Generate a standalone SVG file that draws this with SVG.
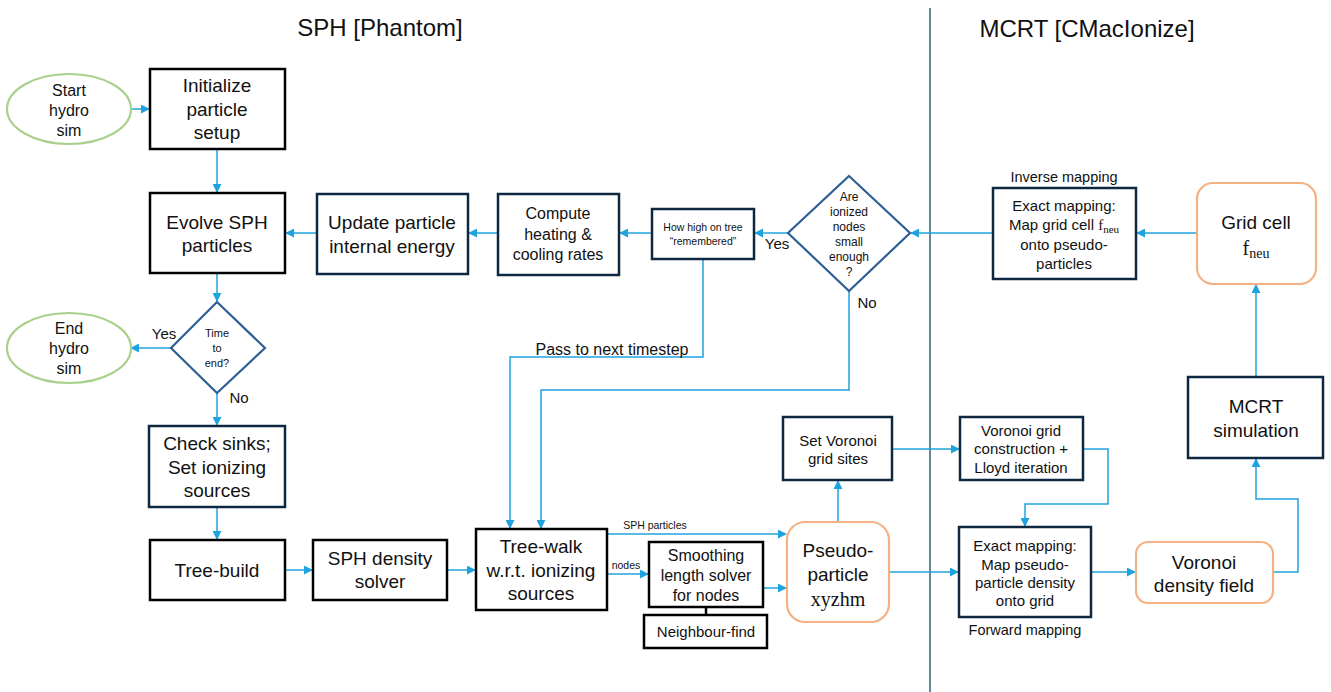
<svg xmlns="http://www.w3.org/2000/svg" width="1331" height="692" viewBox="0 0 1331 692">
<defs>
<marker id="ah" viewBox="0 0 10 10" refX="9" refY="5" markerWidth="9" markerHeight="9" markerUnits="userSpaceOnUse" orient="auto">
<path d="M0,0 L10,5 L0,10 z" fill="#1fa3df"/>
</marker>
</defs>
<style>
text{font-family:"Liberation Sans",Arial,sans-serif;fill:#111;text-anchor:middle}
.bk{fill:#fff;stroke:#000;stroke-width:2.5}
.nv{fill:#fff;stroke:#0e2841;stroke-width:2.5}
.dm{fill:#fff;stroke:#2e5f94;stroke-width:2.2}
.gr{fill:#fff;stroke:#a9d18e;stroke-width:2.2}
.or{fill:#fff;stroke:#f4b183;stroke-width:2.2}
.c{fill:none;stroke:#1fa3df;stroke-width:1.5}
.a{marker-end:url(#ah)}
.t18{font-size:19px}
.t16{font-size:16px}
.t15{font-size:15px}
.lb{font-size:15px}
.t12{font-size:12px}
.t11{font-size:11px}
.t10{font-size:10.5px}
.ser{font-family:"Liberation Serif","DejaVu Serif",serif}
</style>
<rect width="1331" height="692" fill="#fff"/>
<text x="380" y="36" style="font-size:24px">SPH [Phantom]</text>
<text x="1087" y="37" style="font-size:24px">MCRT [CMacIonize]</text>
<line x1="930" y1="8" x2="930" y2="692" stroke="#2e5f80" stroke-width="1.5"/>

<g id="connectors">
<path class="c a" d="M130,109 H149"/>
<path class="c a" d="M217,149 V192"/>
<path class="c a" d="M217,273 V301"/>
<path class="c a" d="M171,348 H131"/>
<path class="c a" d="M217,393 V425"/>
<path class="c a" d="M217,507 V539"/>
<path class="c a" d="M285,570 H312"/>
<path class="c a" d="M447,570 H475"/>
<path class="c a" d="M317,233 H286"/>
<path class="c a" d="M498,233 H469"/>
<path class="c a" d="M652,233 H620"/>
<path class="c a" d="M788,233 H755"/>
<path class="c a" d="M993,233 H911"/>
<path class="c a" d="M1197,233 H1137"/>
<path class="c a" d="M703,259 V357 H510 V528"/>
<path class="c a" d="M849,291 V390 H541 V528"/>
<path class="c a" d="M607,534 H786"/>
<path class="c a" d="M607,574 H648"/>
<path class="c a" d="M763,588 H786"/>
<path d="M706,607 V615" stroke="#000" stroke-width="2.5"/>
<path class="c a" d="M838,522 V481"/>
<path class="c a" d="M892,449 H959"/>
<path class="c a" d="M1083,449 H1108 V504 H1025 V526"/>
<path class="c a" d="M889,572 H958"/>
<path class="c a" d="M1091,572 H1135"/>
<path class="c a" d="M1273,572 H1298 V499 H1256 V459"/>
<path class="c a" d="M1256,377 V285"/>
</g>
<g id="connector-labels">
<text class="lb" x="164" y="339">Yes</text>
<text class="lb" x="239" y="403">No</text>
<text class="lb" x="777" y="249">Yes</text>
<text class="lb" x="867" y="308">No</text>
<text x="612" y="355" style="font-size:16px">Pass to next timestep</text>
<text class="t10" x="655" y="529">SPH particles</text>
<text class="t10" x="626" y="569">nodes</text>
<text x="1064" y="182" style="font-size:14.5px">Inverse mapping</text>
<text x="1025" y="635" style="font-size:14.5px">Forward mapping</text>
</g>

<g id="start">
<ellipse class="gr" cx="69" cy="109" rx="62" ry="35"/>
<text class="t16" x="69" y="96">Start</text>
<text class="t16" x="69" y="116">hydro</text>
<text class="t16" x="69" y="136">sim</text>
</g>
<g id="init">
<rect class="bk" x="150" y="69" width="135" height="80"/>
<text class="t18" x="217" y="92">Initialize</text>
<text class="t18" x="217" y="116">particle</text>
<text class="t18" x="217" y="139">setup</text>
</g>
<g id="evolve">
<rect class="bk" x="150" y="193" width="135" height="80"/>
<text class="t18" x="217" y="229">Evolve SPH</text>
<text class="t18" x="217" y="252">particles</text>
</g>
<g id="time-end">
<polygon class="dm" points="217,302 265,348 217,393 171,348"/>
<text class="t11" x="217" y="337">Time</text>
<text class="t11" x="217" y="352">to</text>
<text class="t11" x="217" y="367">end?</text>
</g>
<g id="end">
<ellipse class="gr" cx="69" cy="348" rx="62" ry="35"/>
<text class="t16" x="69" y="334">End</text>
<text class="t16" x="69" y="354">hydro</text>
<text class="t16" x="69" y="374">sim</text>
</g>
<g id="check-sinks">
<rect class="nv" x="149" y="426" width="136" height="81"/>
<text class="t18" x="217" y="450">Check sinks;</text>
<text class="t18" x="217" y="474">Set ionizing</text>
<text class="t18" x="217" y="497">sources</text>
</g>
<g id="tree-build">
<rect class="bk" x="150" y="540" width="135" height="60"/>
<text class="t18" x="217" y="577">Tree-build</text>
</g>
<g id="sph-density">
<rect class="bk" x="313" y="540" width="134" height="60"/>
<text class="t18" x="380" y="565">SPH density</text>
<text class="t18" x="380" y="588">solver</text>
</g>
<g id="tree-walk">
<rect class="bk" x="476" y="529" width="131" height="81"/>
<text class="t18" x="541" y="553">Tree-walk</text>
<text class="t18" x="541" y="577">w.r.t. ionizing</text>
<text class="t18" x="541" y="600">sources</text>
</g>
<g id="smoothing">
<rect class="bk" x="649" y="542" width="114" height="65"/>
<text class="t16" x="706" y="561">Smoothing</text>
<text class="t16" x="706" y="581">length solver</text>
<text class="t16" x="706" y="601">for nodes</text>
</g>
<g id="neighbour">
<rect class="bk" x="644" y="615" width="123" height="33"/>
<text class="t15" x="706" y="637">Neighbour-find</text>
</g>
<g id="update">
<rect class="nv" x="317" y="194" width="151" height="80"/>
<text class="t18" x="392" y="229">Update particle</text>
<text class="t18" x="392" y="253">internal energy</text>
</g>
<g id="compute">
<rect class="nv" x="498" y="194" width="121" height="81"/>
<text class="t16" x="558" y="219">Compute</text>
<text class="t16" x="558" y="240">heating &amp;</text>
<text class="t16" x="558" y="260">cooling rates</text>
</g>
<g id="how-high">
<rect class="nv" x="652" y="209" width="102" height="50"/>
<text class="t10" x="703" y="231">How high on tree</text>
<text class="t10" x="703" y="245">“remembered”</text>
</g>
<g id="ionized-small">
<polygon class="dm" points="849,176 910,233 849,291 788,233"/>
<text class="t12" x="849" y="201">Are</text>
<text class="t12" x="849" y="216">ionized</text>
<text class="t12" x="849" y="231">nodes</text>
<text class="t12" x="849" y="246">small</text>
<text class="t12" x="849" y="261">enough</text>
<text class="t12" x="849" y="276">?</text>
</g>
<g id="inverse-map">
<rect class="nv" x="993" y="188" width="143" height="91"/>
<text class="t15" x="1064" y="211">Exact mapping:</text>
<text class="t15" x="1064" y="230">Map grid cell <tspan class="ser">f<tspan font-size="11" dy="3">neu</tspan></tspan></text>
<text class="t15" x="1064" y="250">onto pseudo-</text>
<text class="t15" x="1064" y="269">particles</text>
</g>
<g id="grid-cell">
<rect class="or" x="1197" y="183" width="119" height="101" rx="16"/>
<text class="t18" x="1256" y="229">Grid cell</text>
<text class="ser" x="1256" y="255" style="font-size:20px">f<tspan font-size="14" dy="3">neu</tspan></text>
</g>
<g id="mcrt">
<rect class="nv" x="1188" y="377" width="135" height="81"/>
<text class="t18" x="1256" y="413">MCRT</text>
<text class="t18" x="1256" y="437">simulation</text>
</g>
<g id="voronoi-density">
<rect class="or" x="1136" y="542" width="137" height="61" rx="12"/>
<text class="t18" x="1204" y="569">Voronoi</text>
<text class="t18" x="1204" y="592">density field</text>
</g>
<g id="forward-map">
<rect class="nv" x="959" y="527" width="132" height="90"/>
<text class="t15" x="1025" y="551">Exact mapping:</text>
<text class="t15" x="1025" y="570">Map pseudo-</text>
<text class="t15" x="1025" y="588">particle density</text>
<text class="t15" x="1025" y="606">onto grid</text>
</g>
<g id="voronoi-grid">
<rect class="nv" x="960" y="417" width="123" height="63" />
<text class="t15" x="1021" y="436">Voronoi grid</text>
<text class="t15" x="1021" y="454">construction +</text>
<text class="t15" x="1021" y="473">Lloyd iteration</text>
</g>
<g id="set-voronoi">
<rect class="nv" x="783" y="417" width="109" height="63"/>
<text class="t15" x="838" y="446">Set Voronoi</text>
<text class="t15" x="838" y="464">grid sites</text>
</g>
<g id="pseudo">
<rect class="or" x="787" y="522" width="102" height="100" rx="18"/>
<text class="t18" x="838" y="557">Pseudo-</text>
<text class="t18" x="838" y="581">particle</text>
<text class="ser" x="838" y="606" style="font-size:20px">xyzhm</text>
</g>
</svg>
